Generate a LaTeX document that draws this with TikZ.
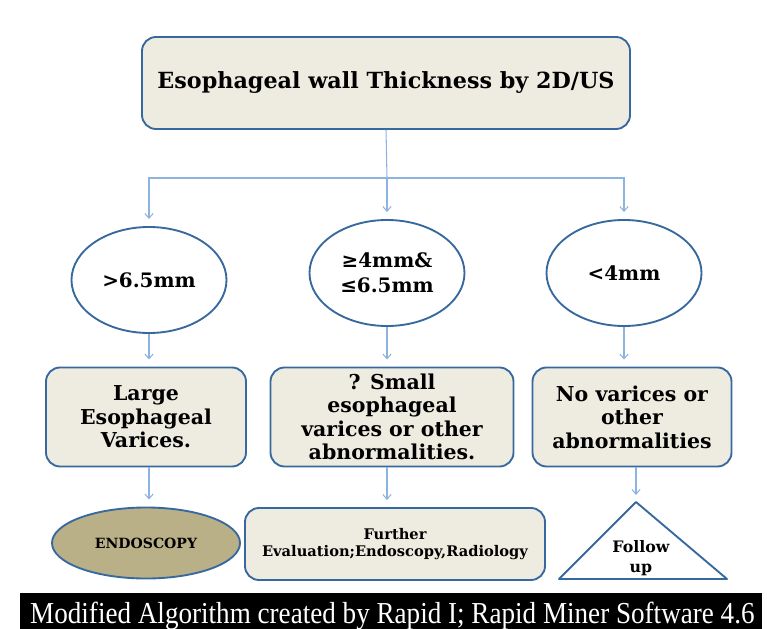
\documentclass[tikz,border=0pt]{standalone}
\usepackage{fontspec}
\setmainfont{DejaVu Serif}
\newfontfamily\bannerfont{Liberation Serif}
\usetikzlibrary{shapes.geometric, arrows.meta}
\definecolor{edgeblue}{RGB}{56,105,158}
\definecolor{linkblue}{RGB}{141,179,224}
\definecolor{boxtan}{RGB}{238,236,225}
\definecolor{ovaltan}{RGB}{186,176,136}
\tikzset{
x=0.03cm, y=-0.03cm, % one unit is one pixel of the sketch, y runs down
>={Straight Barb[length=4pt,width=7pt]}, % thin open arrow heads
box/.style={draw=edgeblue, line width=1.6pt, fill=boxtan, rounded corners=12pt, inner sep=1pt, align=center, font=\bfseries\fontsize{17.5}{20}\selectfont}, % tan boxes
oval/.style={ellipse, draw=edgeblue, line width=1.6pt, fill=white, minimum width=4.65cm, minimum height=3.18cm, inner sep=1pt, align=center, font=\bfseries\fontsize{17}{21}\selectfont}, % the three thickness classes
link/.style={->, draw=linkblue, line width=0.9pt, shorten >=6pt}, % connectors
}

\begin{document}
\begin{tikzpicture}
    \useasboundingbox (0,0) rectangle (767,629);
    \node[box, minimum width=14.64cm, minimum height=2.76cm, font=\bfseries\fontsize{19}{22}\selectfont] (wall) at (386,83) {Esophageal wall Thickness by 2D/US};
    \node[oval] (gt) at (149,280) {>6.5mm};
    \node[oval] (mid) at (387,273) {≥4mm\&\\≤6.5mm};
    \node[oval] (lt) at (624,273) {<4mm};
    \node[box, minimum width=6cm, minimum height=2.97cm] (varices) at (146,417) {Large\\Esophageal\\Varices.};
    \node[box, minimum width=7.29cm, minimum height=2.97cm] (unsure) at (392,417) {? Small\\esophageal\\varices or other\\abnormalities.};
    \node[box, minimum width=5.97cm, minimum height=2.97cm] (none) at (632,417) {No varices or\\other\\abnormalities};
    \node[ellipse, draw=edgeblue, line width=1.6pt, fill=ovaltan, minimum width=5.64cm, minimum height=2.13cm, font=\bfseries\fontsize{12}{14}\selectfont] (endo) at (146,543) {ENDOSCOPY};
    \node[box, minimum width=9cm, minimum height=2.16cm, font=\bfseries\fontsize{12.5}{15}\selectfont] (further) at (395,544) {Further\\Evaluation;Endoscopy,Radiology};
    % follow up triangle
    \coordinate (apex) at (636,502);
    \draw[draw=edgeblue, line width=1.6pt, fill=white, line join=round] (apex) -- (727,579) -- (559,579) -- cycle;
    \node[align=center, font=\bfseries\fontsize{13.5}{17}\selectfont] (follow) at (641,558) {Follow\\up};
    % connectors
    \coordinate (split) at (387,178);
    \draw[draw=linkblue, line width=0.9pt] (wall.south) -- (split);
    \draw[link] (split) -| (gt);
    \draw[link] (split) -- (mid);
    \draw[link] (split) -| (lt);
    \draw[link] (gt.south) -- (gt.south |- varices.north);
    \draw[link] (mid.south) -- (mid.south |- unsure.north);
    \draw[link] (lt.south) -- (lt.south |- none.north);
    \draw[link] (gt.south |- varices.south) -- (gt.south |- endo.north);
    \draw[link] (mid.south |- unsure.south) -- (mid.south |- further.north);
    \draw[link] (none.south -| apex) -- (apex);
    % banner
    \fill[black] (20,593) rectangle (762,640);
    \node[anchor=base west, text=white, inner sep=0pt, font=\bannerfont\fontsize{26}{28}\selectfont] (credit) at (30,623) {\scalebox{0.89}[1]{Modified Algorithm created by Rapid I; Rapid Miner Software 4.6}};
\end{tikzpicture}
\end{document}
